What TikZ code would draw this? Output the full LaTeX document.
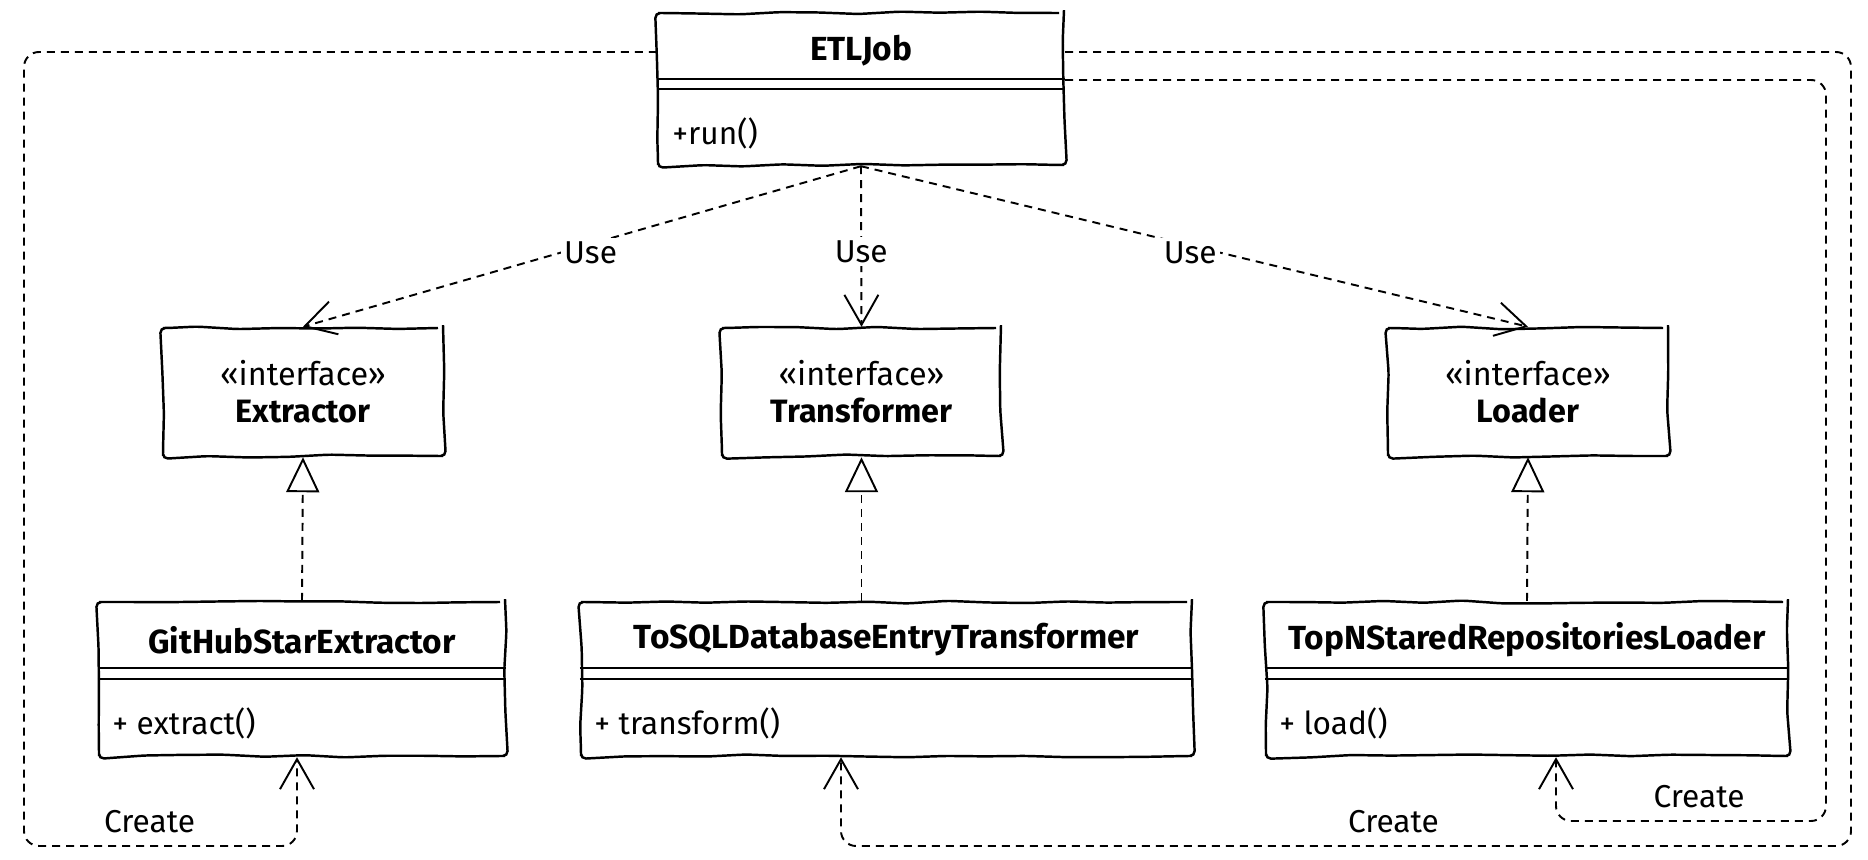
\documentclass[tikz,border=0pt]{standalone}
\usepackage{fontspec}
\setmainfont{Fira Sans}
\usetikzlibrary{arrows.meta,decorations.pathmorphing}

\tikzset{
  sketch/.style={decorate, decoration={random steps, segment length=4mm, amplitude=0.15mm}, rounded corners=0.5mm},
  classbox/.style={draw, line width=0.7pt, sketch},
  ifacebox/.style={draw, line width=0.7pt, sketch, align=center, font=\fontsize{9.2}{10.5}\selectfont},
  divider/.style={line width=0.7pt},
  title/.style={font=\fontsize{9.5}{11}\selectfont\bfseries},
  member/.style={font=\fontsize{9}{11}\selectfont, anchor=west},
  dep/.style={line width=0.55pt, dash pattern=on 0.8mm off 0.6mm, -{Straight Barb[length=3mm, width=3.4mm]}},
  real/.style={line width=0.55pt, dash pattern=on 0.8mm off 0.6mm, -{Triangle[open, length=3.5mm, width=3.3mm]}},
  lbl/.style={fill=white, inner sep=1pt, font=\fontsize{9}{11}\selectfont},
  note/.style={font=\fontsize{9}{11}\selectfont},
}

\begin{document}
\begin{tikzpicture}[x=0.1mm, y=-0.1mm]
  \useasboundingbox (0,0) rectangle (1868,860);
  \pgfmathsetseed{5}

  % job class
  \node[classbox, minimum width=40.6mm, minimum height=15.2mm] (etl) at (861,89) {};
  \draw[divider] (etl.west |- 0,79) -- (etl.east |- 0,79);
  \draw[divider] (etl.west |- 0,89) -- (etl.east |- 0,89);
  \node[title] (etlname) at (861,51) {ETLJob};
  \node[member] (etlrun) at (660,133) {+run()};

  % interfaces
  \node[ifacebox, minimum width=28mm, minimum height=12.8mm] (iext) at (303,392) {«interface»\\\textbf{Extractor}};
  \node[ifacebox, minimum width=27.9mm, minimum height=12.8mm] (itr) at (861.5,392) {«interface»\\\textbf{Transformer}};
  \node[ifacebox, minimum width=28mm, minimum height=12.8mm] (ild) at (1528,392) {«interface»\\\textbf{Loader}};

  % implementations
  \node[classbox, minimum width=40.6mm, minimum height=15.4mm] (ghc) at (302,679) {};
  \draw[divider] (ghc.west |- 0,668) -- (ghc.east |- 0,668);
  \draw[divider] (ghc.west |- 0,679) -- (ghc.east |- 0,679);
  \node[title] (ghcname) at (302,640) {GitHubStarExtractor};
  \node[member] (ghcop) at (100,723) {+ extract()};

  \node[classbox, minimum width=61.1mm, minimum height=15.4mm] (trc) at (886.5,679) {};
  \draw[divider] (trc.west |- 0,668) -- (trc.east |- 0,668);
  \draw[divider] (trc.west |- 0,679) -- (trc.east |- 0,679);
  \node[title] (trcname) at (886.5,640) {ToSQLDatabaseEntryTransformer};
  \node[member] (trcop) at (582,723) {+ transform()};

  \node[classbox, minimum width=52.2mm, minimum height=15.4mm] (ldc) at (1527,679) {};
  \draw[divider] (ldc.west |- 0,668) -- (ldc.east |- 0,668);
  \draw[divider] (ldc.west |- 0,679) -- (ldc.east |- 0,679);
  \node[title] (ldcname) at (1527,640) {TopNStaredRepositoriesLoader};
  \node[member] (ldcop) at (1267,723) {+ load()};

  % use
  \draw[dep] (etl.south) -- node[lbl, pos=0.54, anchor=west] (use1) {Use} (iext.north);
  \draw[dep] (etl.south) -- node[lbl, pos=0.53] (use2) {Use} (itr.north);
  \draw[dep] (etl.south) -- node[lbl, pos=0.54, anchor=east] (use3) {Use} (ild.north);

  % realization
  \draw[real] (ghc.north) -- (iext.south);
  \draw[real] (trc.north -| itr.south) -- (itr.south);
  \draw[real] (ldc.north) -- (ild.south);

  % create
  \draw[dep, rounded corners=1.5mm] (etl.west |- 0,52) -- (24,52) -- (24,846)
    -- node[note, pos=0.46, above] (cr1) {Create} (297,846) -- (ghc.south -| 297,0);
  \draw[dep, rounded corners=1.5mm] (etl.east |- 0,52) -- (1851,52) -- (1851,846)
    -- node[note, pos=0.453, above] (cr2) {Create} (841,846) -- (trc.south -| 841,0);
  \draw[dep, rounded corners=1.5mm] (etl.east |- 0,80) -- (1826,80) -- (1826,821)
    -- node[note, pos=0.47, above] (cr3) {Create} (1556,821) -- (ldc.south -| 1556,0);
\end{tikzpicture}
\end{document}
